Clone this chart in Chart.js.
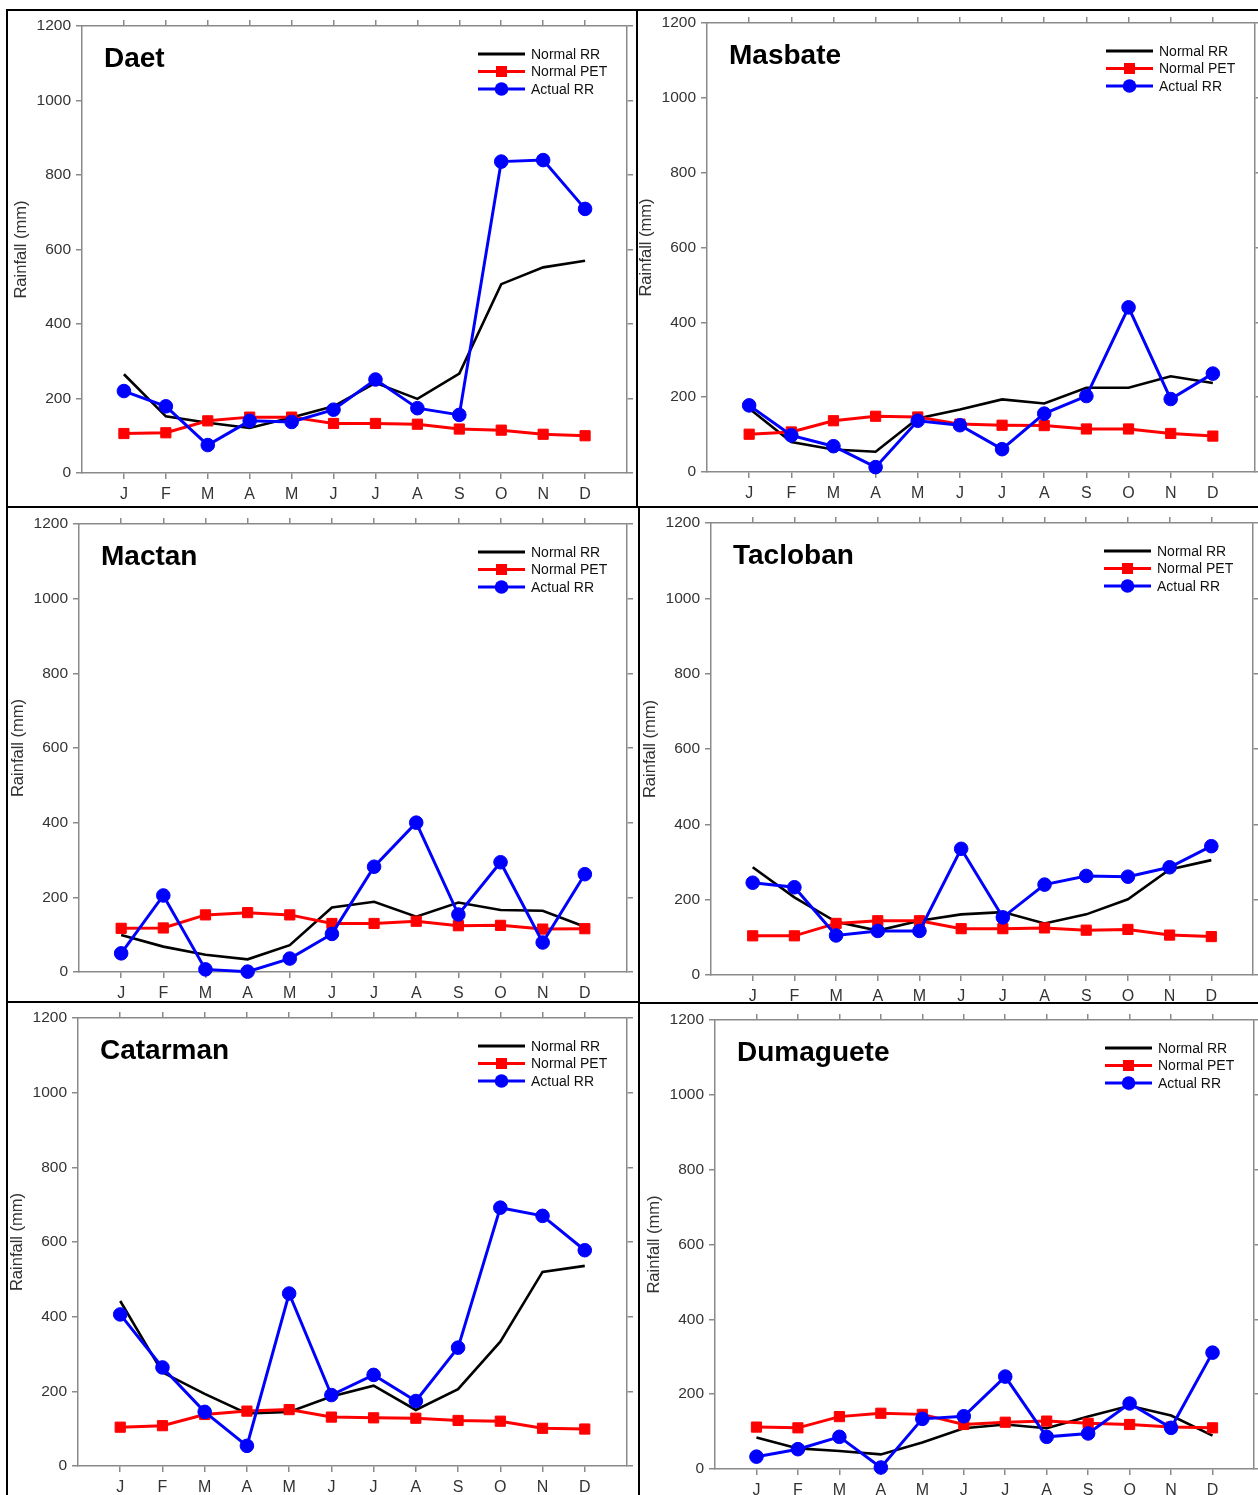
<!DOCTYPE html>
<html>
<head>
<meta charset="utf-8">
<title>Monthly rainfall and PET – six stations</title>
<script src="https://cdn.jsdelivr.net/npm/chart.js@4.4.0/dist/chart.umd.min.js"></script>
<style>
  html, body { margin: 0; padding: 0; background: #fff; }
  body { position: relative; width: 1258px; height: 1495px; overflow: hidden; }
  .panel { position: absolute; overflow: hidden; background: #fff; }
  .panel canvas { position: absolute; }
  .rule { position: absolute; background: #000; z-index: 5; }
</style>
</head>
<body>
<script>
// ---- data (mm) ----------------------------------------------------------
const months = ['J', 'F', 'M', 'A', 'M', 'J', 'J', 'A', 'S', 'O', 'N', 'D'];
const seriesNames = ['Normal RR', 'Normal PET', 'Actual RR'];
const stations = ['Daet', 'Masbate', 'Mactan', 'Tacloban', 'Catarman', 'Dumaguete'];
const yMin = 0, yMax = 1200, yStep = 200;
const yTitle = 'Rainfall (mm)';

const daetNormalRR   = [265, 152, 135, 121, 149, 179, 242, 199, 267, 507, 552, 570];
const daetNormalPET  = [106, 108, 140, 150, 150, 133, 133, 131, 118, 115, 104, 100];
const daetActualRR   = [220, 179, 75, 140, 137, 170, 251, 174, 156, 836, 840, 709];

const masbateNormalRR  = [170, 80, 60, 54, 143, 167, 194, 183, 225, 225, 256, 238];
const masbateNormalPET = [101, 107, 137, 149, 147, 128, 125, 124, 115, 115, 103, 96];
const masbateActualRR  = [178, 98, 69, 13, 137, 125, 61, 156, 203, 440, 195, 263];

const mactanNormalRR  = [99, 68, 46, 34, 72, 173, 188, 148, 186, 166, 164, 121];
const mactanNormalPET = [117, 118, 153, 159, 153, 130, 130, 136, 124, 125, 115, 116];
const mactanActualRR  = [50, 205, 7, 1, 36, 102, 282, 400, 154, 294, 79, 262];

const taclobanNormalRR  = [286, 206, 141, 118, 144, 161, 167, 137, 161, 201, 280, 305];
const taclobanNormalPET = [104, 104, 137, 144, 144, 123, 123, 125, 119, 121, 106, 102];
const taclobanActualRR  = [245, 233, 105, 117, 117, 335, 153, 240, 263, 261, 286, 342];

const catarmanNormalRR  = [442, 251, 193, 141, 145, 186, 215, 150, 206, 333, 520, 536];
const catarmanNormalPET = [104, 108, 138, 147, 151, 131, 129, 128, 122, 120, 101, 99];
const catarmanActualRR  = [406, 264, 145, 54, 462, 190, 244, 174, 317, 692, 670, 578];

const dumagueteNormalRR  = [84, 55, 48, 39, 71, 109, 119, 109, 140, 169, 143, 89];
const dumagueteNormalPET = [112, 110, 140, 149, 146, 119, 125, 128, 122, 119, 112, 110];
const dumagueteActualRR  = [33, 53, 86, 4, 134, 141, 247, 86, 95, 175, 110, 311];

const stationSeries = [
  [daetNormalRR, daetNormalPET, daetActualRR],
  [masbateNormalRR, masbateNormalPET, masbateActualRR],
  [mactanNormalRR, mactanNormalPET, mactanActualRR],
  [taclobanNormalRR, taclobanNormalPET, taclobanActualRR],
  [catarmanNormalRR, catarmanNormalPET, catarmanActualRR],
  [dumagueteNormalRR, dumagueteNormalPET, dumagueteActualRR]
];

// ---- page layout ---------------------------------------------------------
// clip: visible box of each panel [x, y, w, h]; area: plot frame [left, top, right, bottom]
const panelLayout = [
  { clip: [8, 11, 628, 495],   area: [82, 26, 627, 473] },
  { clip: [638, 11, 620, 495], area: [707, 23, 1255, 472] },
  { clip: [8, 508, 630, 493],  area: [79, 524, 627, 972] },
  { clip: [640, 508, 618, 494], area: [711, 523, 1253, 975] },
  { clip: [8, 1003, 630, 492], area: [78, 1018, 627, 1466] },
  { clip: [640, 1004, 618, 491], area: [715, 1020, 1254, 1469] }
];
// black separating rules between the panels [x, y, w, h]
const rules = [
  [6, 9, 1252, 2], [6, 9, 2, 1486],
  [636, 9, 2, 499], [6, 506, 1252, 2],
  [638, 506, 2, 498], [6, 1001, 634, 2],
  [638, 1002, 620, 2], [638, 1001, 2, 494]
];

const Y_AXIS_W = 75, RIGHT_TICK = 6, RIGHT_PAD = 4, TOP_TICK = 6, TOP_PAD = 14, X_AXIS_H = 40;
const FONT = '"Liberation Sans", Arial, Helvetica, sans-serif';
const AXIS_GRAY = '#8a8a8a';
const LABEL_GRAY = '#333333';

const seriesStyle = [
  { color: '#000000', width: 2.6, marker: null },
  { color: '#ff0000', width: 3, marker: 'rect' },
  { color: '#0000ff', width: 3, marker: 'circle' }
];

// Station name and the line+marker key, drawn inside the plot frame
const panelDecor = {
  id: 'panelDecor',
  afterDraw(chart, args, opts) {
    const { ctx, chartArea: a } = chart;
    ctx.save();
    ctx.fillStyle = '#000';
    ctx.font = 'bold 28px ' + FONT;
    ctx.textBaseline = 'alphabetic';
    ctx.textAlign = 'left';
    ctx.fillText(opts.station, a.left + 22, a.top + 41);

    chart.data.datasets.forEach((ds, i) => {
      const y = a.top + 28 + i * 17.5;
      const x0 = a.right - 149, x1 = a.right - 102, xm = (x0 + x1) / 2;
      ctx.strokeStyle = ds.borderColor;
      ctx.lineWidth = 3;
      ctx.beginPath();
      ctx.moveTo(x0, y);
      ctx.lineTo(x1, y);
      ctx.stroke();
      ctx.fillStyle = ds.borderColor;
      if (ds.pointStyle === 'rect' && ds.pointRadius > 0) {
        ctx.fillRect(xm - 5.5, y - 5.5, 11, 11);
      } else if (ds.pointStyle === 'circle' && ds.pointRadius > 0) {
        ctx.beginPath();
        ctx.arc(xm, y, 6.8, 0, Math.PI * 2);
        ctx.fill();
      }
      ctx.fillStyle = '#111';
      ctx.font = '14px ' + FONT;
      ctx.textBaseline = 'middle';
      ctx.fillText(ds.label, a.right - 96, y + 1);
    });
    ctx.restore();
  }
};

function monthTicks(scale) {
  scale.ticks = months.map((m, i) => ({ value: i + 1 }));
}

function makeChart(canvas, station, series) {
  const datasets = series.map((vals, k) => {
    const st = seriesStyle[k];
    return {
      label: seriesNames[k],
      data: vals.map((v, i) => ({ x: i + 1, y: v })),
      borderColor: st.color,
      backgroundColor: st.color,
      borderWidth: st.width,
      pointStyle: st.marker || 'circle',
      pointRadius: st.marker === 'rect' ? 7.2 : (st.marker === 'circle' ? 6.8 : 0),
      pointBorderWidth: 1,
      pointBorderColor: st.color,
      pointBackgroundColor: st.color,
      tension: 0,
      clip: false,
      order: 3 - k
    };
  });

  const tickGrid = { drawOnChartArea: false, drawTicks: true, tickLength: 6, color: AXIS_GRAY, lineWidth: 1.5 };
  const border = { display: true, color: AXIS_GRAY, width: 1.5 };

  return new Chart(canvas, {
    type: 'line',
    data: { datasets },
    options: {
      responsive: false,
      animation: false,
      devicePixelRatio: 1,
      layout: { padding: { left: 0, right: RIGHT_PAD, top: TOP_PAD, bottom: 0 } },
      plugins: {
        legend: { display: false },
        tooltip: { enabled: false },
        panelDecor: { station }
      },
      scales: {
        x: {
          type: 'linear', position: 'bottom', min: 0, max: months.length + 1,
          afterBuildTicks: monthTicks,
          ticks: {
            callback: (v) => months[v - 1] || '',
            autoSkip: false, maxRotation: 0, padding: 6,
            color: LABEL_GRAY, font: { family: FONT, size: 16 }
          },
          grid: tickGrid, border,
          afterFit: (s) => { s.height = X_AXIS_H; }
        },
        xTop: {
          type: 'linear', position: 'top', min: 0, max: months.length + 1,
          afterBuildTicks: monthTicks,
          ticks: { display: false },
          grid: tickGrid, border,
          afterFit: (s) => { s.height = TOP_TICK; }
        },
        y: {
          type: 'linear', position: 'left', min: yMin, max: yMax,
          ticks: {
            stepSize: yStep, padding: 5, color: LABEL_GRAY,
            font: { family: FONT, size: 15.5 },
            callback: (v) => String(v)
          },
          title: {
            display: true, text: yTitle, color: LABEL_GRAY,
            font: { family: FONT, size: 16.5 }, padding: { top: 5, bottom: 4 }
          },
          grid: tickGrid, border,
          afterFit: (s) => { s.width = Y_AXIS_W; }
        },
        yRight: {
          type: 'linear', position: 'right', min: yMin, max: yMax,
          ticks: { stepSize: yStep, display: false },
          grid: tickGrid, border,
          afterFit: (s) => { s.width = RIGHT_TICK; }
        }
      }
    },
    plugins: [panelDecor]
  });
}

stations.forEach((name, idx) => {
  const lay = panelLayout[idx];
  const [px, py, pw, ph] = lay.clip;
  const [L, T, R, B] = lay.area;
  const panel = document.createElement('div');
  panel.className = 'panel';
  Object.assign(panel.style, { left: px + 'px', top: py + 'px', width: pw + 'px', height: ph + 'px' });
  const canvas = document.createElement('canvas');
  const cx = L - Y_AXIS_W, cy = T - TOP_PAD - TOP_TICK;
  const cw = (R - L) + Y_AXIS_W + RIGHT_TICK + RIGHT_PAD;
  const ch = (B - T) + TOP_PAD + TOP_TICK + X_AXIS_H;
  canvas.width = cw; canvas.height = ch;
  Object.assign(canvas.style, { left: (cx - px) + 'px', top: (cy - py) + 'px', width: cw + 'px', height: ch + 'px' });
  panel.appendChild(canvas);
  document.body.appendChild(panel);
  makeChart(canvas, name, stationSeries[idx]);
});

rules.forEach(([x, y, w, h]) => {
  const d = document.createElement('div');
  d.className = 'rule';
  Object.assign(d.style, { left: x + 'px', top: y + 'px', width: w + 'px', height: h + 'px' });
  document.body.appendChild(d);
});
</script>
</body>
</html>
